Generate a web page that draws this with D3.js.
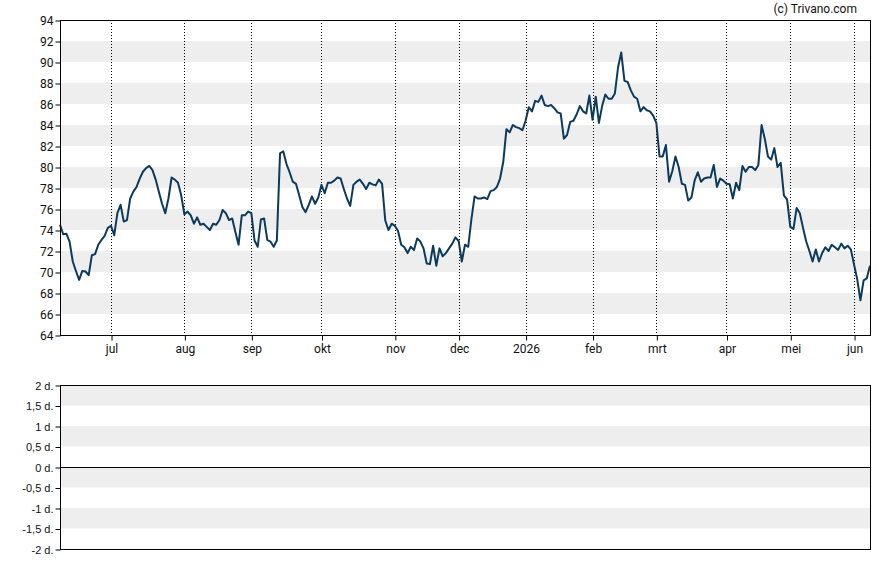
<!DOCTYPE html>
<html>
<head>
<meta charset="utf-8">
<script src="https://cdn.jsdelivr.net/npm/d3@7"></script>
<style>
  body { margin: 0; background: #fff; }
  .ytop text, .xtop text { font-family: Roboto, Arial, sans-serif; font-size: 12px; fill: #111; }
  .ybot text { font-family: "Liberation Sans", Arial, sans-serif; font-size: 11px; fill: #111; }
</style>
</head>
<body>
<svg id="chart" width="888" height="565"></svg>
<script>
// closing prices, one per trading day (9 jun 2025 .. 8 jun 2026)
const prices = [
  74.5, 73.6, 73.65, 72.9, 71.0, 70.1, 69.25, 70.1, 70.05, 69.7,
  71.6, 71.7, 72.6, 73.05, 73.45, 74.2, 74.4, 73.5, 75.6, 76.4,
  74.8, 74.95, 77.0, 77.65, 78.1, 78.9, 79.55, 79.9, 80.1, 79.7,
  78.8, 77.65, 76.5, 75.6, 77.0, 79.0, 78.8, 78.5, 77.3, 75.5,
  75.75, 75.4, 74.6, 75.2, 74.5, 74.6, 74.3, 74.0, 74.6, 74.5,
  74.95, 75.9, 75.6, 74.95, 75.1, 73.8, 72.6, 75.4, 75.4, 75.75,
  75.6,
  73.0, 72.4, 75.0, 75.1, 73.05, 72.9, 72.4, 73.0, 81.3, 81.5,
  80.3, 79.5, 78.6, 78.4, 77.3, 76.2, 75.7, 76.4, 77.2, 76.5,
  77.1, 78.3, 77.5, 78.5, 78.5, 78.7, 79.0, 78.9, 77.9, 77.0,
  76.3, 78.3, 78.6, 78.8, 78.4, 77.9, 78.5, 78.35, 78.25, 78.8,
  78.4, 74.9, 74.0, 74.6, 74.4, 73.9, 72.6, 72.35, 71.8, 72.4,
  72.1, 73.2, 72.9, 72.25, 70.8, 70.75, 72.5, 70.6, 72.25, 71.5,
  71.8, 72.25, 72.7, 73.3, 72.95,
  71.0, 72.6, 72.4, 75.0, 77.2, 77.0, 77.0, 77.1, 76.95, 77.7,
  77.8, 78.1, 78.9, 80.5, 83.6, 83.3, 84.0, 83.8, 83.7, 83.5,
  84.4, 85.7, 85.3, 86.3, 86.2, 86.8, 85.9, 85.8, 85.9, 85.6,
  85.2, 85.1, 82.7, 83.05, 84.3, 84.4, 85.0, 85.8, 85.3, 85.1,
  86.8, 84.5, 86.7, 84.2, 85.8, 86.9, 86.5, 86.5, 87.0, 89.5,
  90.9, 88.2, 88.1, 87.3, 86.7, 86.5, 85.3, 85.7, 85.4, 85.3,
  84.9,
  84.2, 81.0, 81.0, 82.1, 78.6, 79.6, 81.0, 80.0, 78.4, 78.3,
  76.8, 77.1, 78.7, 79.5, 78.6, 78.9, 79.0, 79.0, 80.2, 78.1,
  78.9, 78.7, 78.4, 78.35, 77.0, 78.5, 77.8, 80.1, 79.55, 80.0,
  80.0, 79.7, 80.2, 84.0, 82.7, 81.0, 80.7, 81.8, 80.0, 80.4,
  77.3, 76.9, 74.3, 74.1, 76.1, 75.6, 74.2, 72.9, 72.0, 71.0,
  72.15, 71.0, 71.8, 72.35, 72.0, 72.6, 72.35, 72.1, 72.7, 72.25,
  72.5, 72.15, 70.7, 69.3, 67.3, 69.2, 69.4, 70.6
]

// first trading day of each month (index into prices)
const monthIdx = [16, 39, 60, 82, 105, 125, 146, 167, 187, 209, 229, 249]
const monthLabels = ["jul", "aug", "sep", "okt", "nov", "dec", "2026", "feb", "mrt", "apr", "mei", "jun"]

const priceTicks = d3.range(64, 95, 2)
const priceBands = [90, 86, 82, 78, 74, 70, 66]

const lowerTicks = [2, 1.5, 1, 0.5, 0, -0.5, -1, -1.5, -2]
const lowerBands = [2, 1, 0, -1]

const svg = d3.select("#chart")
const left = 60, right = 870

const x = d3.scaleLinear().domain([0, prices.length - 1]).range([left, right])
const y = d3.scaleLinear().domain([64, 94]).range([335, 20])
const y2 = d3.scaleLinear().domain([-2, 2]).range([549, 385])

// grey bands
svg.append("g").selectAll("rect")
  .data(priceBands)
  .enter()
  .append("rect")
  .attr("x", left)
  .attr("width", right - left)
  .attr("y", (d) => y(d + 2))
  .attr("height", (d) => y(d) - y(d + 2))
  .attr("fill", "#eeeeee")

svg.append("g").selectAll("rect")
  .data(lowerBands)
  .enter()
  .append("rect")
  .attr("x", left)
  .attr("width", right - left)
  .attr("y", (d) => y2(d))
  .attr("height", (d) => y2(d - 0.5) - y2(d))
  .attr("fill", "#eeeeee")

// dotted month lines
svg.append("g").selectAll("line")
  .data(monthIdx)
  .enter()
  .append("line")
  .attr("x1", (d) => Math.round(x(d)) + 0.5)
  .attr("x2", (d) => Math.round(x(d)) + 0.5)
  .attr("y1", 20)
  .attr("y2", 335)
  .attr("stroke", "#000")
  .attr("stroke-dasharray", "1,2")

// price line
const line = d3.line()
  .x((d, i) => x(i))
  .y((d) => y(d))

svg.append("path")
  .datum(prices)
  .attr("d", line)
  .attr("fill", "none")
  .attr("stroke", "#0b3a5c")
  .attr("stroke-width", 2)
  .attr("stroke-linejoin", "round")

// frames
svg.append("rect")
  .attr("x", left + 0.5).attr("y", 20.5)
  .attr("width", right - left).attr("height", 315)
  .attr("fill", "none").attr("stroke", "#000")

svg.append("rect")
  .attr("x", left + 0.5).attr("y", 385.5)
  .attr("width", right - left).attr("height", 164)
  .attr("fill", "none").attr("stroke", "#000")

svg.append("line")
  .attr("x1", left).attr("x2", right)
  .attr("y1", Math.round(y2(0)) + 0.5).attr("y2", Math.round(y2(0)) + 0.5)
  .attr("stroke", "#000")

// axes
svg.append("g")
  .attr("class", "ytop")
  .attr("transform", `translate(${left + 0.5},0.5)`)
  .call(d3.axisLeft(y).tickValues(priceTicks).tickSize(5).tickSizeOuter(0).tickPadding(2))
  .call((g) => g.select(".domain").remove())

svg.append("g")
  .attr("class", "xtop")
  .attr("transform", `translate(0.5,335.5)`)
  .call(d3.axisBottom(x).tickValues(monthIdx).tickFormat((d, i) => monthLabels[i]).tickSize(5).tickSizeOuter(0).tickPadding(4))
  .call((g) => g.select(".domain").remove())

svg.append("g")
  .attr("class", "ybot")
  .attr("transform", `translate(${left + 0.5},0.5)`)
  .call(d3.axisLeft(y2).tickValues(lowerTicks).tickSize(5).tickSizeOuter(0).tickPadding(2)
    .tickFormat((d) => String(d).replace(".", ",") + " d."))
  .call((g) => g.select(".domain").remove())

svg.append("text")
  .attr("x", 857)
  .attr("y", 13)
  .attr("text-anchor", "end")
  .style("font-family", "Roboto, Arial, sans-serif")
  .style("font-size", "12px")
  .style("fill", "#111")
  .text("(c) Trivano.com")
</script>
</body>
</html>
